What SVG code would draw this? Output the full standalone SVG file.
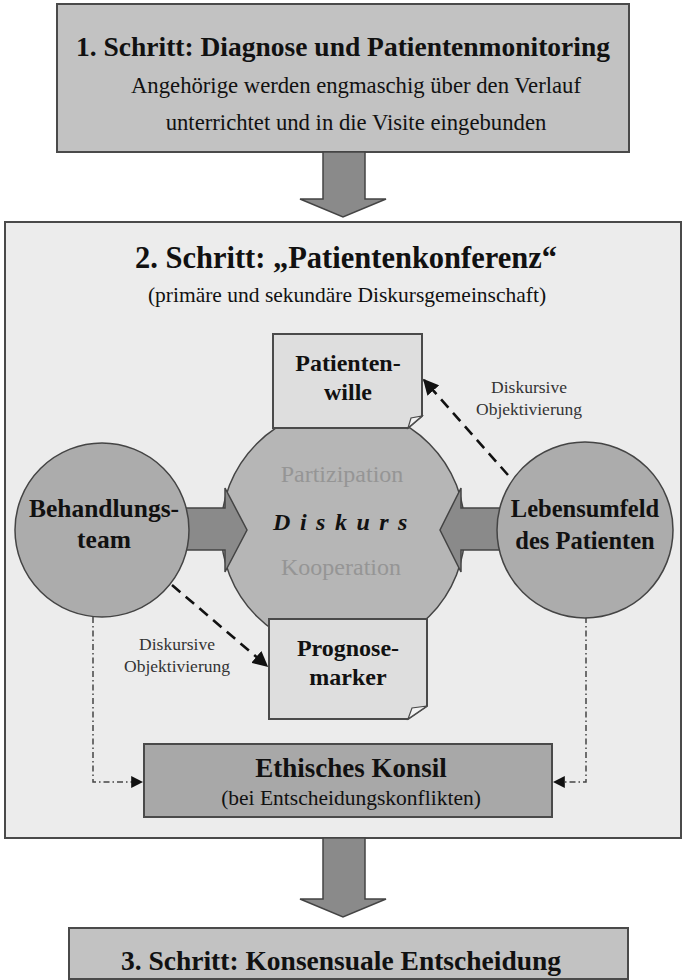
<svg xmlns="http://www.w3.org/2000/svg" width="685" height="980" viewBox="0 0 685 980">
<style>
text{font-family:"Liberation Serif","Times New Roman",serif;fill:#111}
.b{font-weight:bold}
.box{stroke:#4a4a4a;stroke-width:2}
.circ{stroke:#444;stroke-width:1.5}
.note{fill:#dedede;stroke:#4a4a4a;stroke-width:2}
.fold{fill:#f2f2f2;stroke:#4a4a4a;stroke-width:1.2}
.blk{fill:#8a8a8a;stroke:#444;stroke-width:1.5}
.dash{fill:none;stroke:#111;stroke-width:2.6;stroke-dasharray:11 7}
.dd{fill:none;stroke:#444;stroke-width:1.5;stroke-dasharray:6 3 1.5 3}
.lbl{font-size:17.5px;fill:#333}
.soft{font-size:24px;fill:#959595}
</style>
<defs>
<marker id="ah" viewBox="0 0 10 10" refX="9" refY="5" markerWidth="6" markerHeight="6" markerUnits="strokeWidth" orient="auto">
<path d="M0,0 L10,5 L0,10 z" fill="#111"/>
</marker>
<marker id="ah2" viewBox="0 0 10 10" refX="9" refY="5" markerWidth="8" markerHeight="8" markerUnits="strokeWidth" orient="auto">
<path d="M0,0 L10,5 L0,10 z" fill="#111"/>
</marker>
</defs>
<rect width="685" height="980" fill="#ffffff"/>

<g id="step1">
<rect class="box" x="57" y="4" width="572" height="148" fill="#c2c2c2"/>
<text class="b" x="343" y="56" font-size="27.5" text-anchor="middle">1. Schritt: Diagnose und Patientenmonitoring</text>
<text x="356" y="93" font-size="22.7" text-anchor="middle">Angehörige werden engmaschig über den Verlauf</text>
<text x="356" y="130" font-size="22.7" text-anchor="middle">unterrichtet und in die Visite eingebunden</text>
</g>

<g id="step2">
<rect class="box" x="5" y="222" width="676" height="616" fill="#ececec"/>
<text class="b" x="346" y="268" font-size="30.5" text-anchor="middle">2. Schritt: „Patientenkonferenz“</text>
<text x="347" y="302" font-size="21.5" text-anchor="middle">(primäre und sekundäre Diskursgemeinschaft)</text>
</g>

<g id="diskurs">
<circle class="circ" cx="343" cy="530" r="122" fill="#b6b6b6"/>
<text class="soft" x="342" y="482" text-anchor="middle">Partizipation</text>
<text class="b" x="345" y="530" font-size="24" font-style="italic" letter-spacing="9.5" text-anchor="middle">Diskurs</text>
<text class="soft" x="341" y="575" text-anchor="middle">Kooperation</text>
</g>

<g id="patientenwille">
<path class="note" d="M273,334 H422 V416 L408,428 H273 Z"/>
<path class="fold" d="M422,416 L408,428 L411,418 Z"/>
<text class="b" x="348" y="371" font-size="24" text-anchor="middle">Patienten-</text>
<text class="b" x="348" y="400" font-size="24" text-anchor="middle">wille</text>
</g>

<g id="prognosemarker">
<path class="note" d="M269,619 H427 V706 L408,719 H269 Z"/>
<path class="fold" d="M427,706 L408,719 L412,708 Z"/>
<text class="b" x="348" y="656" font-size="24" text-anchor="middle">Prognose-</text>
<text class="b" x="348" y="685" font-size="24" text-anchor="middle">marker</text>
</g>

<g id="connectors">
<path class="blk" d="M170,508 H225 V488 L247,530 L225,572 V550 H170 Z"/>
<path class="blk" d="M515,508 H461 V488 L440,530 L461,572 V550 H515 Z"/>
<path class="dash" d="M508,475 L424,380" marker-end="url(#ah)"/>
<path class="dash" d="M172,585 L267,666" marker-end="url(#ah)"/>
<path class="dd" d="M93,617 V782 H142" marker-end="url(#ah2)"/>
<path class="dd" d="M586,617 V782 H554" marker-end="url(#ah2)"/>
<path class="blk" d="M323,152 H365 V199 H386 L343,217 L300,199 H323 Z" fill="#808080"/>
<path class="blk" d="M323,838 H365 V899 H386 L343,917 L300,899 H323 Z" fill="#808080"/>
<text class="lbl" x="529" y="393" text-anchor="middle">Diskursive</text>
<text class="lbl" x="529" y="415" text-anchor="middle">Objektivierung</text>
<text class="lbl" x="177" y="650" text-anchor="middle">Diskursive</text>
<text class="lbl" x="177" y="672" text-anchor="middle">Objektivierung</text>
</g>

<g id="behandlungsteam">
<circle class="circ" cx="102" cy="530" r="87" fill="#acacac"/>
<text class="b" x="104" y="517" font-size="25.5" text-anchor="middle">Behandlungs-</text>
<text class="b" x="104" y="548" font-size="25.5" text-anchor="middle">team</text>
</g>

<g id="lebensumfeld">
<circle class="circ" cx="585" cy="530" r="88" fill="#acacac"/>
<text class="b" x="585" y="517" font-size="24.5" text-anchor="middle">Lebensumfeld</text>
<text class="b" x="585" y="549" font-size="24.5" text-anchor="middle">des Patienten</text>
</g>

<g id="konsil">
<rect class="box" x="144" y="744" width="408" height="73" fill="#a8a8a8"/>
<text class="b" x="351" y="777" font-size="27" text-anchor="middle">Ethisches Konsil</text>
<text x="351" y="805" font-size="21.5" text-anchor="middle">(bei Entscheidungskonflikten)</text>
</g>

<g id="step3">
<rect class="box" x="69" y="928" width="559" height="51" fill="#c2c2c2"/>
<text class="b" x="341" y="970" font-size="27.5" text-anchor="middle">3. Schritt: Konsensuale Entscheidung</text>
</g>
</svg>
